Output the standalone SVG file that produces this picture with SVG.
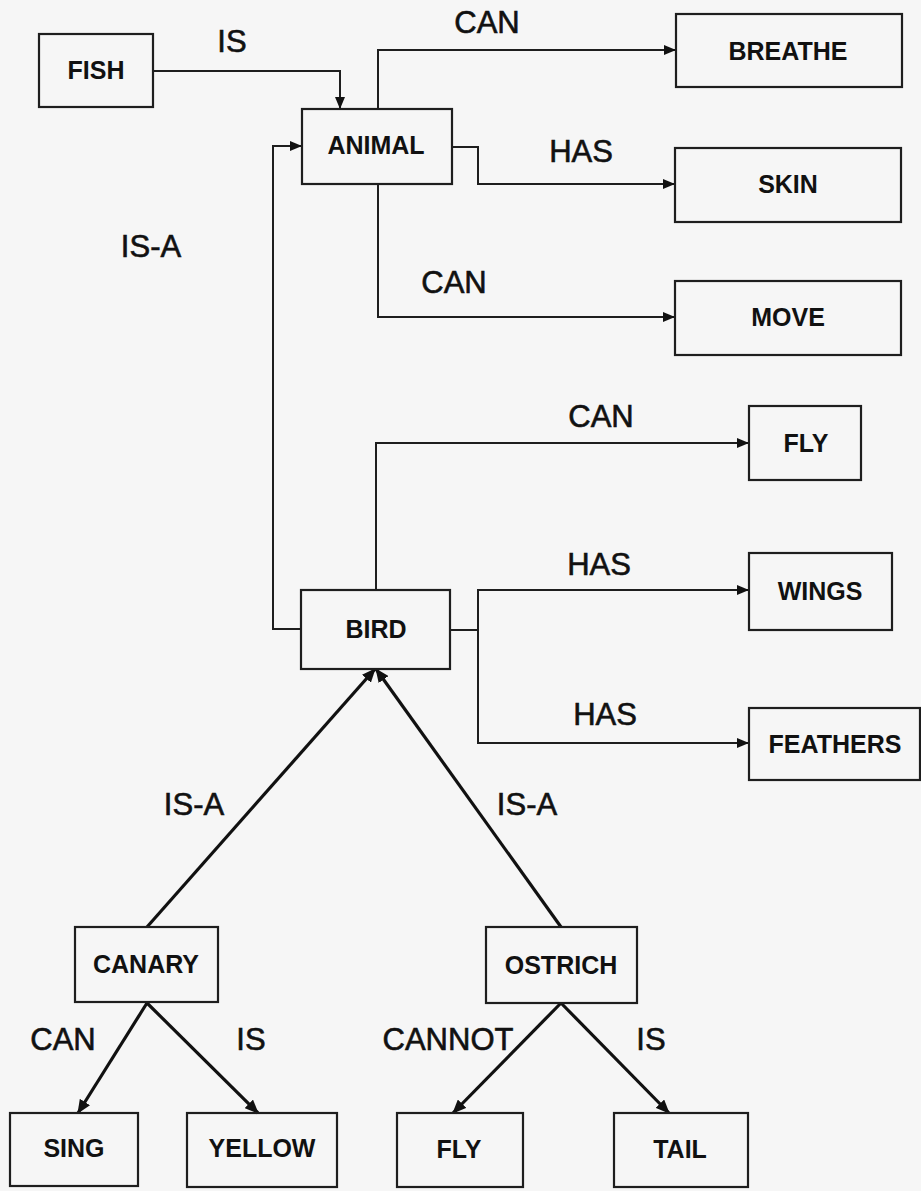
<svg xmlns="http://www.w3.org/2000/svg" width="921" height="1191" viewBox="0 0 921 1191">
<style>
.node rect{fill:none;stroke:#1e1e1e;stroke-width:2.2}
.node text{font-family:"Liberation Sans",Arial,sans-serif;font-weight:bold;font-size:25px;fill:#111;text-anchor:middle}
.lbl{font-family:"Liberation Sans",Arial,sans-serif;font-size:31px;fill:#111;stroke:#111;stroke-width:0.6;text-anchor:middle}
.ln{fill:none;stroke:#1e1e1e;stroke-width:2;marker-end:url(#ah)}
.dg{fill:none;stroke:#111;stroke-width:3.2;marker-end:url(#ah2)}
</style>
<defs>
<marker id="ah" markerWidth="12" markerHeight="10" refX="12" refY="5" orient="auto" markerUnits="userSpaceOnUse"><path d="M0,0 L12,5 L0,10 Z" fill="#111"/></marker>
<marker id="ah2" markerWidth="14" markerHeight="12" refX="13" refY="6" orient="auto" markerUnits="userSpaceOnUse"><path d="M0,0 L14,6 L0,12 Z" fill="#111"/></marker>
</defs>
<rect x="0" y="0" width="921" height="1191" fill="#f6f6f6"/>
<g id="connectors">
<path class="ln" d="M153,71 H340 V109"/>
<path class="ln" d="M378,109 V50 H676"/>
<path class="ln" d="M452,147 H478 V184 H675"/>
<path class="ln" d="M378,184 V317 H675"/>
<path class="ln" d="M301,629 H273 V146 H302"/>
<path class="ln" d="M376,590 V443 H749"/>
<path class="ln" d="M450,630 H478 V590 H749"/>
<path class="ln" d="M478,630 V743 H749"/>
<path class="dg" d="M147,927 L375,669"/>
<path class="dg" d="M561,927 L376,669"/>
<path class="dg" d="M147,1003 L78,1113"/>
<path class="dg" d="M147,1003 L258,1113"/>
<path class="dg" d="M561,1003 L453,1113"/>
<path class="dg" d="M561,1003 L669,1113"/>
<text class="lbl" x="232" y="52">IS</text>
<text class="lbl" x="487" y="33">CAN</text>
<text class="lbl" x="581" y="162">HAS</text>
<text class="lbl" x="454" y="293">CAN</text>
<text class="lbl" x="151" y="257">IS-A</text>
<text class="lbl" x="601" y="427">CAN</text>
<text class="lbl" x="599" y="575">HAS</text>
<text class="lbl" x="605" y="725">HAS</text>
<text class="lbl" x="194" y="815">IS-A</text>
<text class="lbl" x="527" y="815">IS-A</text>
<text class="lbl" x="63" y="1050">CAN</text>
<text class="lbl" x="251" y="1050">IS</text>
<text class="lbl" x="448" y="1050">CANNOT</text>
<text class="lbl" x="651" y="1050">IS</text>
</g>
<g id="fish" class="node"><rect x="39" y="34" width="114" height="73"/><text x="96" y="79">FISH</text></g>
<g id="animal" class="node"><rect x="302" y="109" width="150" height="75"/><text x="376" y="154">ANIMAL</text></g>
<g id="breathe" class="node"><rect x="676" y="14" width="226" height="73"/><text x="788" y="60">BREATHE</text></g>
<g id="skin" class="node"><rect x="675" y="148" width="226" height="74"/><text x="788" y="193">SKIN</text></g>
<g id="move" class="node"><rect x="675" y="281" width="226" height="74"/><text x="788" y="326">MOVE</text></g>
<g id="bird" class="node"><rect x="301" y="590" width="149" height="79"/><text x="376" y="638">BIRD</text></g>
<g id="fly" class="node"><rect x="749" y="406" width="112" height="74"/><text x="806" y="452">FLY</text></g>
<g id="wings" class="node"><rect x="749" y="553" width="143" height="77"/><text x="820" y="600">WINGS</text></g>
<g id="feathers" class="node"><rect x="749" y="708" width="171" height="72"/><text x="835" y="753">FEATHERS</text></g>
<g id="canary" class="node"><rect x="75" y="927" width="143" height="75"/><text x="146" y="973">CANARY</text></g>
<g id="ostrich" class="node"><rect x="486" y="927" width="151" height="76"/><text x="561" y="974">OSTRICH</text></g>
<g id="sing" class="node"><rect x="10" y="1113" width="128" height="73"/><text x="74" y="1157">SING</text></g>
<g id="yellow" class="node"><rect x="187" y="1113" width="150" height="74"/><text x="262" y="1157">YELLOW</text></g>
<g id="fly2" class="node"><rect x="397" y="1113" width="126" height="74"/><text x="459" y="1158">FLY</text></g>
<g id="tail" class="node"><rect x="614" y="1113" width="134" height="74"/><text x="680" y="1158">TAIL</text></g>
</svg>
